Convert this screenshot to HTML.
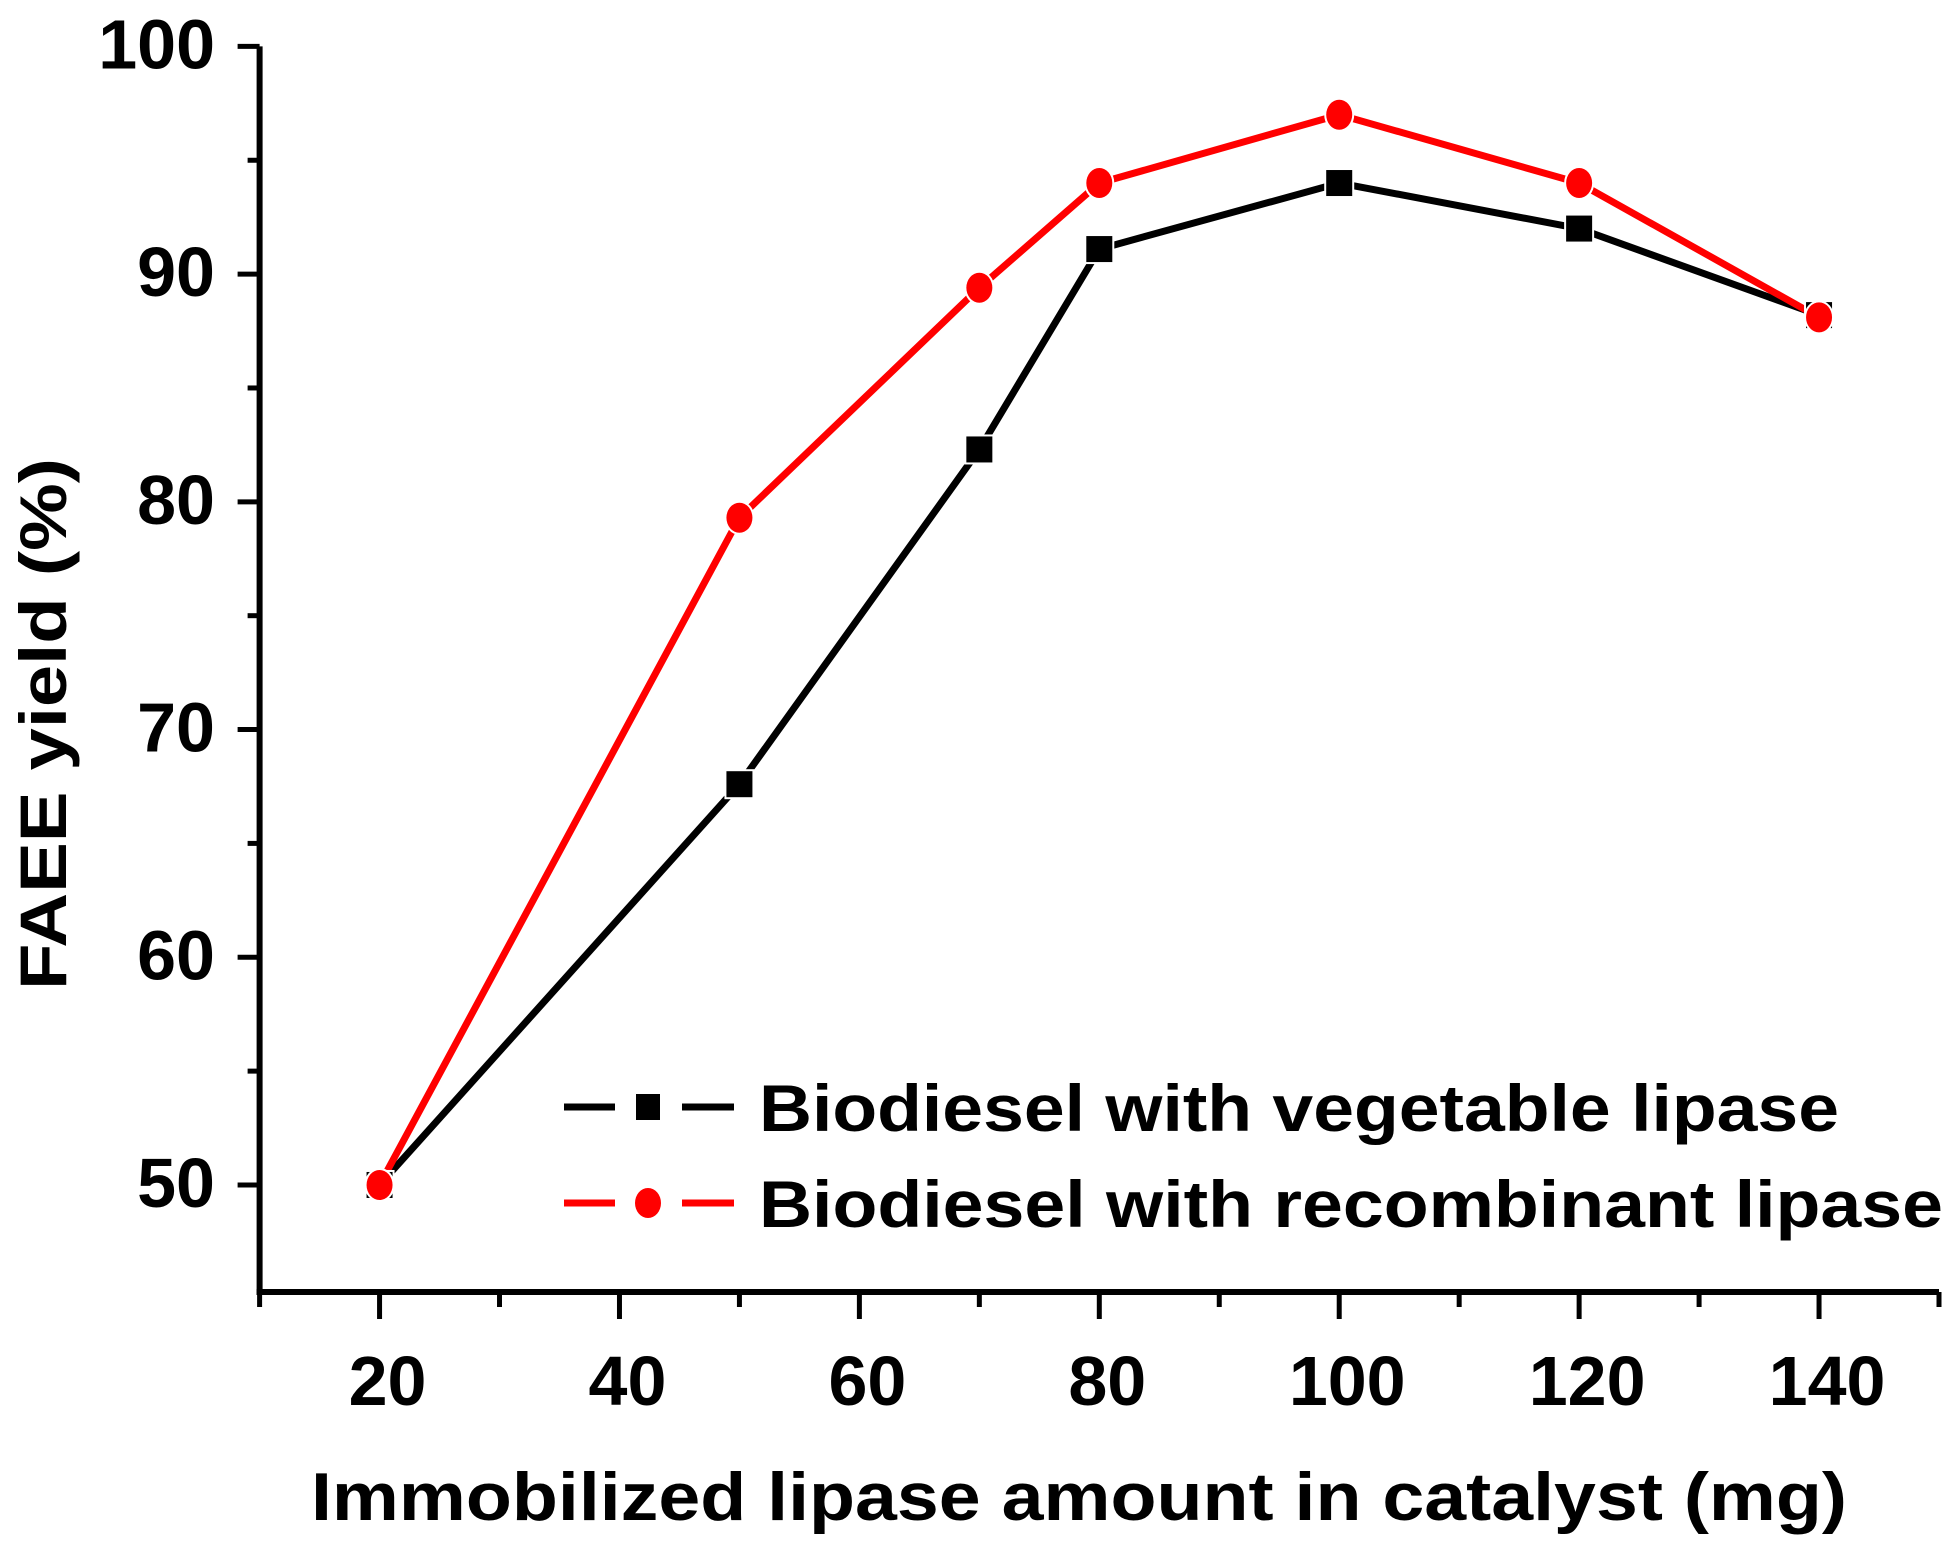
<!DOCTYPE html>
<html><head><meta charset="utf-8"><style>
html,body{margin:0;padding:0;background:#fff;}
svg{display:block;font-family:"Liberation Sans",Arial,sans-serif;font-weight:bold;}
</style></head><body>
<svg id="chart" width="1956" height="1549" viewBox="0 0 1956 1549" xmlns="http://www.w3.org/2000/svg">
<g id="axes"></g>
<g id="series"></g>
<g id="legend"></g>
<text x="1079" y="1520" font-size="68" text-anchor="middle" textLength="1536" lengthAdjust="spacingAndGlyphs">Immobilized lipase amount in catalyst (mg)</text>
<text transform="translate(66,724) rotate(-90)" font-size="66" text-anchor="middle" textLength="532" lengthAdjust="spacingAndGlyphs">FAEE yield (%)</text>
</svg>
<script>
const xCategories = [20, 50, 70, 80, 100, 120, 140];
const vegetableValues = [50, 67.6, 82.3, 91.1, 94.0, 92.0, 88.2];
const recombinantValues = [50, 79.3, 89.4, 94.0, 97.0, 94.0, 88.1];
const xTickLabels = [20, 40, 60, 80, 100, 120, 140];
const yTickLabels = [50, 60, 70, 80, 90, 100];
const seriesNames = ["Biodiesel with vegetable lipase", "Biodiesel with recombinant lipase"];

const NS = "http://www.w3.org/2000/svg";
const X0 = 259.6, X1 = 1939, XMIN = 10, XMAX = 150;
const Y0 = 1292, Y1 = 46.4, YMIN = 45.3, YMAX = 100;
function xs(v){ return X0 + (v - XMIN) / (XMAX - XMIN) * (X1 - X0); }
function ys(v){ return Y0 - (v - YMIN) / (YMAX - YMIN) * (Y0 - Y1); }
function mk(tag, attrs, parent){ const e = document.createElementNS(NS, tag); for (const k in attrs) e.setAttribute(k, attrs[k]); parent.appendChild(e); return e; }

const axes = document.getElementById('axes');
let el;
el = mk('line', {x1: X0, y1: Y1, x2: X0, y2: Y0 + 3, stroke: '#000', 'stroke-width': 6}, axes);


el = mk('line', {x1: X0 - 3, y1: Y0, x2: X1, y2: Y0, stroke: '#000', 'stroke-width': 6}, axes);



for (let v = 10; v <= 150; v += 10) {
  const major = xTickLabels.indexOf(v) >= 0;
  el = mk('line', {x1: xs(v), y1: Y0, x2: xs(v), y2: Y0 + (major ? 27 : 15), stroke: '#000', 'stroke-width': 5}, axes);
  
  
}
xTickLabels.forEach(v => {
  el = mk('text', {x: xs(v) + 8, y: 1405, 'font-size': 70, 'text-anchor': 'middle'}, axes);
  el.textContent = v;
  
  
});
for (let v = 50; v <= 100; v += 5) {
  const major = yTickLabels.indexOf(v) >= 0;
  el = mk('line', {x1: X0 - (major ? 22 : 12), y1: ys(v), x2: X0, y2: ys(v), stroke: '#000', 'stroke-width': 5}, axes);
  
  
}
yTickLabels.forEach(v => {
  el = mk('text', {x: 215, y: ys(v) + 22, 'font-size': 70, 'text-anchor': 'end'}, axes);
  el.textContent = v;
  
  
});

const series = document.getElementById('series');
function drawLine(vals, color, name){
  const pts = xCategories.map((c, i) => xs(c) + ',' + ys(vals[i])).join(' ');
  const p = mk('polyline', {points: pts, fill: 'none', stroke: color, 'stroke-width': 7, 'stroke-linejoin': 'round'}, series);
  
  
}
drawLine(vegetableValues, '#000', 'vegetable');
drawLine(recombinantValues, '#ff0000', 'recombinant');
vegetableValues.forEach((v, i) => {
  const r = mk('rect', {x: xs(xCategories[i]) - 13, y: ys(v) - 13, width: 26, height: 26, fill: '#000', stroke: '#fff', 'stroke-width': 4, 'paint-order': 'stroke'}, series);
  
  
});
recombinantValues.forEach((v, i) => {
  const c = mk('ellipse', {cx: xs(xCategories[i]), cy: ys(v), rx: 13, ry: 15, fill: '#ff0000', stroke: '#fff', 'stroke-width': 4, 'paint-order': 'stroke'}, series);
  
  
});

const legend = document.getElementById('legend');
const legendRows = [{y: 1131, color: '#000', shape: 'rect'}, {y: 1227, color: '#ff0000', shape: 'circle'}];
const legendWidths = [1080, 1184];
legendRows.forEach((row, i) => {
  const ly = row.y - 24;
  el = mk('line', {x1: 564, y1: ly, x2: 615, y2: ly, stroke: row.color, 'stroke-width': 7}, legend);
  
  
  el = mk('line', {x1: 682, y1: ly, x2: 734, y2: ly, stroke: row.color, 'stroke-width': 7}, legend);
  
  
  if (row.shape === 'rect') el = mk('rect', {x: 636, y: ly - 13, width: 24, height: 26, fill: row.color}, legend);
  else el = mk('ellipse', {cx: 648, cy: ly, rx: 13, ry: 15, fill: row.color}, legend);
  
  
  el = mk('text', {x: 759, y: row.y, 'font-size': 66, textLength: legendWidths[i], lengthAdjust: 'spacingAndGlyphs'}, legend);
  el.textContent = seriesNames[i];
  
  
});
</script>
</body></html>
